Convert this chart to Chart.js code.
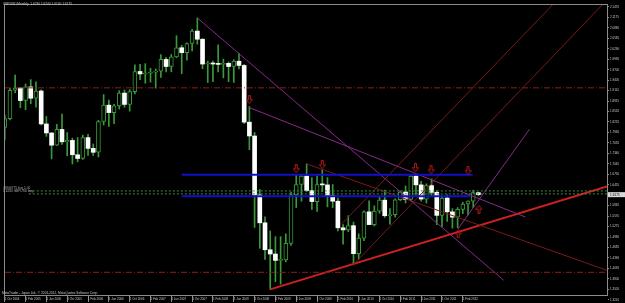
<!DOCTYPE html>
<html>
<head>
<meta charset="utf-8">
<title>GBPUSD,Monthly</title>
<script src="https://cdn.jsdelivr.net/npm/chart.js@4.4.1/dist/chart.umd.min.js"></script>
<style>
  html, body { margin: 0; padding: 0; background: #000; overflow: hidden; }
  canvas { display: block; }
</style>
</head>
<body>
<canvas id="chart" width="625" height="303"></canvas>
<script>
// monthly candles, index 0 = Oct 2004 ... 91 = May 2012
const opens = [
  1.8070, 1.8318, 1.9120, 1.9185, 1.8830, 1.9215, 1.8895, 1.9100, 1.8170, 1.7915,
  1.7570, 1.8015, 1.7665, 1.7705, 1.7300, 1.7195, 1.7785, 1.7480, 1.7370, 1.8240,
  1.8700, 1.8490, 1.8680, 1.9040, 1.8720, 1.9080, 1.9650, 1.9580, 1.9600, 1.9630,
  1.9660, 1.9990, 1.9790, 2.0060, 2.0320, 2.0180, 2.0440, 2.0790, 2.0560, 1.9860,
  1.9890, 1.9860, 1.9850, 1.9880, 1.9790, 1.9940, 1.9820, 1.8220, 1.7830, 1.6165,
  1.5380, 1.4620, 1.4500, 1.4320, 1.4330, 1.4800, 1.6170, 1.6460, 1.6700, 1.6290,
  1.5980, 1.6460, 1.6450, 1.6150, 1.5990, 1.5240, 1.5180, 1.5300, 1.4510, 1.4950,
  1.5690, 1.5330, 1.5710, 1.6020, 1.5580, 1.5610, 1.6030, 1.6250, 1.6040, 1.6700,
  1.6450, 1.6050, 1.6430, 1.6240, 1.5590, 1.6080, 1.5690, 1.5540, 1.5760, 1.5910,
  1.5990, 1.6230
];
const highs = [
  1.8430, 1.9175, 1.9550, 1.9200, 1.9300, 1.9420, 1.9360, 1.9135, 1.8380, 1.7925,
  1.8160, 1.8450, 1.7930, 1.7770, 1.7785, 1.7855, 1.7880, 1.7605, 1.8270, 1.9000,
  1.8840, 1.8720, 1.9110, 1.9130, 1.9140, 1.9840, 1.9850, 1.9870, 1.9740, 1.9720,
  2.0130, 2.0050, 2.0130, 2.0660, 2.0390, 2.0460, 2.0840, 2.1160, 2.0580, 1.9940,
  1.9940, 2.0400, 2.0000, 1.9920, 1.9980, 2.0160, 1.9850, 1.8660, 1.7930, 1.6320,
  1.5550, 1.5150, 1.4990, 1.4990, 1.5070, 1.6250, 1.6744, 1.6740, 1.7043, 1.6660,
  1.6700, 1.6880, 1.6660, 1.6460, 1.6080, 1.5330, 1.5580, 1.5400, 1.5070, 1.5720,
  1.6000, 1.5860, 1.6100, 1.6300, 1.5780, 1.6060, 1.6280, 1.6420, 1.6740, 1.6750,
  1.6550, 1.6480, 1.6620, 1.6290, 1.6140, 1.6170, 1.5780, 1.5810, 1.5960, 1.6000,
  1.6300, 1.6240
];
const lows = [
  1.7730, 1.8280, 1.9050, 1.8630, 1.8570, 1.8740, 1.8640, 1.8140, 1.7820, 1.7185,
  1.7560, 1.7590, 1.7270, 1.7040, 1.7100, 1.7170, 1.7280, 1.7280, 1.7240, 1.8140,
  1.8100, 1.8180, 1.8590, 1.8640, 1.8530, 1.9020, 1.9420, 1.9320, 1.9350, 1.9180,
  1.9480, 1.9640, 1.9640, 2.0040, 1.9590, 1.9970, 2.0230, 2.0420, 1.9730, 1.9340,
  1.9360, 1.9640, 1.9470, 1.9360, 1.9340, 1.9720, 1.8180, 1.7440, 1.5250, 1.4660,
  1.4350, 1.3503, 1.3720, 1.3650, 1.4280, 1.4740, 1.5810, 1.5990, 1.6260, 1.5760,
  1.5700, 1.6260, 1.5830, 1.5810, 1.5150, 1.4780, 1.5130, 1.4230, 1.4350, 1.4880,
  1.5380, 1.5290, 1.5650, 1.5530, 1.5340, 1.5540, 1.6000, 1.5940, 1.6000, 1.6160,
  1.5990, 1.5940, 1.6130, 1.5330, 1.5270, 1.5420, 1.5230, 1.5240, 1.5640, 1.5600,
  1.5810, 1.6140
];
const closes = [
  1.8318, 1.9120, 1.9185, 1.8830, 1.9215, 1.8895, 1.9100, 1.8170, 1.7915, 1.7570,
  1.8015, 1.7665, 1.7705, 1.7300, 1.7195, 1.7785, 1.7480, 1.7370, 1.8240, 1.8700,
  1.8490, 1.8680, 1.9040, 1.8720, 1.9080, 1.9650, 1.9580, 1.9600, 1.9630, 1.9660,
  1.9990, 1.9790, 2.0060, 2.0320, 2.0180, 2.0440, 2.0790, 2.0560, 1.9860, 1.9890,
  1.9860, 1.9850, 1.9880, 1.9790, 1.9940, 1.9820, 1.8220, 1.7830, 1.6165, 1.5380,
  1.4620, 1.4500, 1.4320, 1.4330, 1.4800, 1.6170, 1.6460, 1.6700, 1.6290, 1.5980,
  1.6460, 1.6450, 1.6150, 1.5990, 1.5240, 1.5180, 1.5300, 1.4510, 1.4950, 1.5690,
  1.5330, 1.5710, 1.6020, 1.5580, 1.5610, 1.6030, 1.6250, 1.6040, 1.6700, 1.6450,
  1.6050, 1.6430, 1.6240, 1.5590, 1.6080, 1.5690, 1.5540, 1.5760, 1.5910, 1.5990,
  1.6230, 1.6175
];

// time axis labels (month index -> text)
const dateTickIdx = [0, 4, 8, 12, 16, 20, 24, 28, 32, 36, 40, 44, 48, 52, 56, 60, 64, 68, 72, 76, 80, 84, 88];
const dateTickLabels = [
  '1 Oct 2004', '1 Feb 2005', '1 Jun 2005', '1 Oct 2005', '1 Feb 2006', '1 Jun 2006',
  '1 Oct 2006', '1 Feb 2007', '1 Jun 2007', '1 Oct 2007', '1 Feb 2008', '1 Jun 2008',
  '1 Oct 2008', '1 Feb 2009', '1 Jun 2009', '1 Oct 2009', '1 Feb 2010', '1 Jun 2010',
  '1 Oct 2010', '1 Feb 2011', '1 Jun 2011', '1 Oct 2011', '1 Feb 2012'
];
// price axis labels
const priceTicks = [
  2.1470, 2.1175, 2.0880, 2.0585, 2.0290, 1.9995, 1.9700, 1.9405, 1.9110, 1.8815,
  1.8520, 1.8225, 1.7930, 1.7635, 1.7340, 1.7045, 1.6750, 1.6455, 1.6160, 1.5865,
  1.5570, 1.5275, 1.4980, 1.4685, 1.4390, 1.4095, 1.3800, 1.3505, 1.3210
];

// drawn objects: [monthIdx1, price1, monthIdx2, price2]
const purpleLines = [
  [37, 2.1161, 95.85, 1.3761],
  [47, 1.8631, 100.05, 1.5542],
  [87.07, 1.5208, 100.81, 1.8019]
];
const maroonLines = [
  [64.74, 1.5348, 105.39, 2.1553],
  [67.03, 1.4206, 114.93, 2.1553],
  [58, 1.7043, 115.7, 1.4040]
];
const redLines = [
  [51, 1.3503, 115.7, 1.6405]
];
const blueLines = [
  [34, 1.6739, 89.9, 1.6739],
  [34, 1.6127, 89.5, 1.6127]
];
const dashDotLevels = [1.9188, 1.3984];
const greenLevels = [1.6280, 1.6196];
const downArrowX = [47, 56, 61, 78.9, 81.9, 89];
const downArrowY = [1.8854, 1.6906, 1.7017, 1.6934, 1.6878, 1.6850];
const upArrowX = [91.1, 87.1];
const upArrowY = [1.5765, 1.5069];

const X_MIN = 0.05, X_MAX = 115.7;
const Y_MIN = 1.33436, Y_MAX = 2.15257;
const FONT = 'Liberation Sans';
const candleGreen = '#3a9a3a';

function seg(l, color, width, dash) {
  return {
    type: 'line',
    data: [{x: l[0], y: l[1]}, {x: l[2], y: l[3]}],
    borderColor: color,
    borderWidth: width,
    borderDash: dash || [],
    pointRadius: 0,
    tension: 0,
    fill: false,
    order: 1
  };
}

function makeArrow(down) {
  const c = document.createElement('canvas');
  c.width = 7; c.height = 9;
  const g = c.getContext('2d');
  if (!down) { g.translate(0, 9); g.scale(1, -1); }
  g.strokeStyle = '#b01818';
  g.lineWidth = 1;
  g.beginPath();
  g.moveTo(2.5, 0.5); g.lineTo(4.5, 0.5); g.lineTo(4.5, 4.5); g.lineTo(6.5, 4.5);
  g.lineTo(3.5, 8.5); g.lineTo(0.5, 4.5); g.lineTo(2.5, 4.5);
  g.closePath();
  g.stroke();
  return c;
}

const bodies = opens.map((o, i) => ({x: i, y: [o, closes[i]]}));
const wicks = lows.map((l, i) => ({x: i, y: [l, highs[i]]}));
const isBull = i => closes[i] >= opens[i];

const datasets = [];
datasets.push({
  type: 'scatter',
  data: downArrowX.map((x, i) => ({x: x, y: downArrowY[i]})),
  pointStyle: makeArrow(true), pointRadius: 4, order: 0
});
datasets.push({
  type: 'scatter',
  data: upArrowX.map((x, i) => ({x: x, y: upArrowY[i]})),
  pointStyle: makeArrow(false), pointRadius: 4, order: 0
});
dashDotLevels.forEach(p => datasets.push(seg([X_MIN, p, X_MAX, p], '#8c1c1c', 1, [6, 2, 1, 2])));
greenLevels.forEach(p => datasets.push(seg([4.63, p, X_MAX, p], '#3d8f3d', 1, [2, 2])));
blueLines.forEach(l => datasets.push(seg(l, '#1010c8', 2)));
purpleLines.forEach(l => datasets.push(seg(l, '#8a2a8a', 1)));
maroonLines.forEach(l => datasets.push(seg(l, '#7a1a1a', 1)));
redLines.forEach(l => datasets.push(seg(l, '#d02020', 2)));
datasets.push({
  type: 'bar',
  data: bodies,
  grouped: false,
  barThickness: 4,
  minBarLength: 1,
  borderSkipped: false,
  backgroundColor: ctx => isBull(ctx.dataIndex) ? '#000000' : '#ffffff',
  borderColor: ctx => isBull(ctx.dataIndex) ? candleGreen : '#ffffff',
  borderWidth: ctx => isBull(ctx.dataIndex) ? 1 : 0,
  order: 2
});
datasets.push({
  type: 'bar',
  data: wicks,
  grouped: false,
  barThickness: 1,
  borderWidth: 0,
  backgroundColor: candleGreen,
  order: 3
});

const mtDecor = {
  id: 'mtDecor',
  afterDraw(chart) {
    const ctx = chart.ctx, ca = chart.chartArea;
    ctx.save();
    ctx.strokeStyle = '#8c8c8c';
    ctx.lineWidth = 1;
    ctx.strokeRect(ca.left - 0.5, ca.top - 0.5, ca.right - ca.left + 1, ca.bottom - ca.top + 1);

    ctx.fillStyle = '#c8c8c8';
    ctx.font = '3.2px "' + FONT + '"';
    ctx.textBaseline = 'middle';
    ctx.textAlign = 'left';
    const last = closes.length - 1;
    ctx.fillText('GBPUSD,Monthly  ' + opens[last].toFixed(4) + ' ' + highs[last].toFixed(4) + ' ' +
      lows[last].toFixed(4) + ' ' + closes[last].toFixed(4), 3, 4);
    ctx.fillText('MetaTrader - Japan Ltd., \u00a9 2001-2012, MetaQuotes Software Corp.', 2, 293);

    ctx.fillStyle = '#a8a8a8';
    ctx.fillText('#4906775 buy 1.00', 3, chart.scales.y.getPixelForValue(greenLevels[0]) - 3);
    ctx.fillText(greenLevels[0].toFixed(4) + ' GBPUSD buy', 3, chart.scales.y.getPixelForValue(greenLevels[0]) + 0.5);

    // current price marker on the price scale
    const py = chart.scales.y.getPixelForValue(closes[last]);
    ctx.fillStyle = '#d8d8d8';
    ctx.fillRect(ca.right + 1, py - 2.5, 17, 5);
    ctx.fillStyle = '#000';
    ctx.fillText(closes[last].toFixed(4), ca.right + 3, py);
    ctx.restore();
  }
};

new Chart(document.getElementById('chart'), {
  type: 'bar',
  data: { datasets: datasets },
  plugins: [mtDecor],
  options: {
    responsive: false,
    animation: false,
    devicePixelRatio: 1,
    layout: { padding: { left: 1, top: 1, right: 0, bottom: 0 } },
    plugins: { legend: { display: false }, tooltip: { enabled: false } },
    scales: {
      x: {
        type: 'linear',
        min: X_MIN, max: X_MAX,
        offset: false,
        afterBuildTicks: s => { s.ticks = dateTickIdx.map(v => ({value: v})); },
        afterFit: s => { s.height = 8; },
        ticks: {
          callback: v => dateTickLabels[dateTickIdx.indexOf(v)] || '',
          autoSkip: false, maxRotation: 0, align: 'start',
          color: '#c8c8c8', font: { family: FONT, size: 3 }, padding: -5
        },
        grid: { drawOnChartArea: false, tickLength: 7, color: '#8c8c8c', offset: false },
        border: { color: '#8c8c8c' }
      },
      y: {
        type: 'linear',
        position: 'right',
        min: Y_MIN, max: Y_MAX,
        afterBuildTicks: s => { s.ticks = priceTicks.map(v => ({value: v})); },
        afterFit: s => { s.width = 18; },
        ticks: {
          callback: v => v.toFixed(4),
          autoSkip: false,
          color: '#c8c8c8', font: { family: FONT, size: 3 }, padding: 1, crossAlign: 'near'
        },
        grid: { drawOnChartArea: false, tickLength: 2, color: '#8c8c8c' },
        border: { color: '#8c8c8c' }
      }
    }
  }
});
</script>
</body>
</html>
